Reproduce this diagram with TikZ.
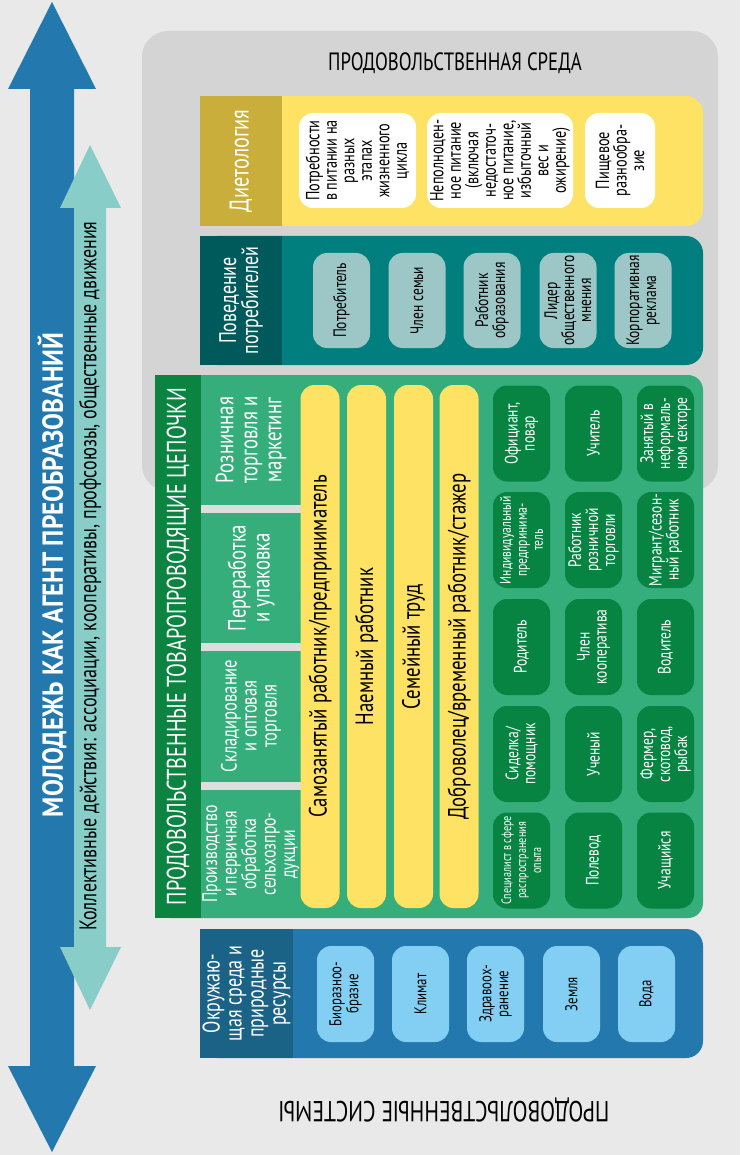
\documentclass[tikz,border=0pt]{standalone}
\usepackage{fontspec}
\setmainfont{PT Sans}[FakeStretch=0.75]
\newfontfamily\widefont{PT Sans}[FakeStretch=0.87]
\newcommand\fsz[2]{\fontsize{#1}{#2}\selectfont}

\definecolor{bgcol}{HTML}{E9E9E9}
\definecolor{envgray}{HTML}{D4D4D4}
\definecolor{gapgray}{HTML}{DEDEDE}
\definecolor{dietyellow}{HTML}{FDE264}
\definecolor{dietgold}{HTML}{C9AE3C}
\definecolor{behteal}{HTML}{007F7E}
\definecolor{behdark}{HTML}{005A5C}
\definecolor{tealcell}{HTML}{9CC7C6}
\definecolor{chaingreen}{HTML}{36AE7B}
\definecolor{chaindark}{HTML}{0B8442}
\definecolor{jobgreen}{HTML}{078442}
\definecolor{natblue}{HTML}{2379AE}
\definecolor{natdark}{HTML}{1B6287}
\definecolor{natcell}{HTML}{83CFF4}
\definecolor{youthblue}{HTML}{2379AE}
\definecolor{actteal}{HTML}{88CDC8}

\begin{document}
\begin{tikzpicture}[
  x=1pt, y=-1pt,
  panel/.style={inner sep=0pt, outer sep=0pt},
  rowpanel/.style={panel, rounded corners=17pt, minimum width=503pt, minimum height=130pt},
  rowlabel/.style={rotate=90, panel, align=center, text=white, minimum height=82pt, minimum width=130pt},
  stage/.style={rotate=90, panel, align=center, text=white, minimum width=128pt, minimum height=100pt},
  bar/.style={rotate=90, panel, fill=dietyellow, rounded corners=14pt, minimum width=523pt, minimum height=39pt, font=\fsz{25}{25}},
  cell/.style={rotate=90, panel, rounded corners=14pt, align=center, minimum width=96pt, minimum height=57pt, font=\fsz{18}{17}},
  whitecell/.style={cell, fill=white, minimum width=95pt, font=\fsz{19}{17.5}},
  behcell/.style={cell, fill=tealcell, minimum width=95pt},
  jobcell/.style={cell, fill=jobgreen, text=white},
  natcell/.style={cell, fill=natcell, font=\fsz{17}{17}}
]
\useasboundingbox (0,0) rectangle (740,1155);
\fill[bgcol] (0,0) rectangle (740,1155);

% double arrows on the left
\fill[youthblue] (52,2) -- (96,89) -- (74,89) -- (74,1066) -- (96,1066) -- (52,1152)
  -- (8,1066) -- (30,1066) -- (30,89) -- (8,89) -- cycle;
\fill[actteal] (90,145) -- (121,208) -- (106,208) -- (106,947) -- (121,947) -- (90,1010)
  -- (60,947) -- (74,947) -- (74,208) -- (60,208) -- cycle;
\node[rotate=90, text=white, font=\widefont\bfseries\fsz{29}{29}] (youth) at (52,575) {МОЛОДЕЖЬ КАК АГЕНТ ПРЕОБРАЗОВАНИЙ};
\node[rotate=90, font=\fsz{24}{24}] (collective) at (90,576)
  {Коллективные действия: ассоциации, кооперативы, профсоюзы, общественные движения};

% food environment
\node[panel, fill=envgray, rounded corners=26pt, minimum width=576pt, minimum height=460pt] (foodenv) at (430,261) {};
\node[font=\fsz{25}{25}] (envtitle) at (455,63) {ПРОДОВОЛЬСТВЕННАЯ СРЕДА};

\node[rowpanel, fill=dietyellow] (dietrow) at (451.5,161) {};
\node[rowlabel, fill=dietgold, font=\fsz{27}{27}] (dietlbl) at (241,161) {Диетология};
\node[whitecell, minimum height=117pt] (needs) at (357.5,160.5)
  {Потребности\\в питании на\\разных\\этапах\\жизненного\\цикла};
\node[whitecell, minimum height=146pt] (malnut) at (500,160.5)
  {Неполноцен-\\ное питание\\(включая\\недостаточ-\\ное питание,\\избыточный\\вес и\\ожирение)};
\node[whitecell, minimum height=70pt] (diversity) at (620,160.5) {Пищевое\\разнообра-\\зие};

\node[rowpanel, fill=behteal, minimum height=129pt] (behrow) at (451.5,300.5) {};
\node[rowlabel, fill=behdark, minimum width=129pt, font=\fsz{24}{22}] (behlbl) at (241,300.5) {Поведение\\потребителей};
\node[behcell] (consumer) at (341.5,300.5) {Потребитель};
\node[behcell] (family) at (417,300.5) {Член семьи};
\node[behcell] (educator) at (492,300.5) {Работник\\образования};
\node[behcell] (leader) at (568,300.5) {Лидер\\общественного\\мнения};
\node[behcell] (advert) at (643,300.5) {Корпоративная\\реклама};

% food supply chains
\node[panel, fill=chaingreen, rounded corners=15pt, minimum width=548pt, minimum height=543pt] (chain) at (429,646.5) {};
\node[rowlabel, fill=chaindark, minimum width=543pt, minimum height=46pt, font=\fsz{27}{27}] (chainlbl) at (178,646.5)
  {ПРОДОВОЛЬСТВЕННЫЕ ТОВАРОПРОВОДЯЩИЕ ЦЕПОЧКИ};
\fill[gapgray] (201,505) rectangle (301,513);
\fill[gapgray] (201,643) rectangle (301,651);
\fill[gapgray] (201,782) rectangle (301,790);
\node[stage, font=\fsz{25}{24}] (retail) at (251,440) {Розничная\\торговля и\\маркетинг};
\node[stage, font=\fsz{25}{24}] (process) at (251,578) {Переработка\\и упаковка};
\node[stage, font=\fsz{22}{20}] (storage) at (251,716) {Складирование\\и оптовая\\торговля};
\node[stage, font=\fsz{21}{19.5}] (produce) at (251,854) {Производство\\и первичная\\обработка\\сельхозпро-\\дукции};

\node[bar] (selfemp) at (320,646.5) {Самозанятый работник/предприниматель};
\node[bar] (hired) at (366.5,646.5) {Наемный работник};
\node[bar] (familylab) at (413.5,646.5) {Семейный труд};
\node[bar] (volunteer) at (459,646.5) {Доброволец/временный работник/стажер};

\node[jobcell] (waiter) at (521.5,433.5) {Официант,\\повар};
\node[jobcell] (teacher) at (593.5,433.5) {Учитель};
\node[jobcell] (informal) at (665.5,433.5) {Занятый в\\неформаль-\\ном секторе};
\node[jobcell, font=\fsz{15.5}{16}] (entrepr) at (521.5,540) {Индивидуальный\\предпринима-\\тель};
\node[jobcell] (retailwk) at (593.5,540) {Работник\\розничной\\торговли};
\node[jobcell] (migrant) at (665.5,540) {Мигрант/сезон-\\ный работник};
\node[jobcell] (parent) at (521.5,647) {Родитель};
\node[jobcell] (coopmem) at (593.5,647) {Член\\кооператива};
\node[jobcell] (driver) at (665.5,647) {Водитель};
\node[jobcell] (carer) at (521.5,754) {Сиделка/\\помощник};
\node[jobcell] (scientist) at (593.5,754) {Ученый};
\node[jobcell] (farmer) at (665.5,754) {Фермер,\\скотовод,\\рыбак};
\node[jobcell, font=\fsz{13.5}{15}] (extension) at (521.5,860.5) {Специалист в сфере\\распространения\\опыта};
\node[jobcell] (cropper) at (593.5,860.5) {Полевод};
\node[jobcell] (student) at (665.5,860.5) {Учащийся};

% environment and natural resources
\node[rowpanel, fill=natblue, minimum height=129pt] (natrow) at (451.5,993.5) {};
\node[rowlabel, fill=natdark, minimum width=129pt, minimum height=93pt, font=\fsz{24}{22}] (natlbl) at (246.5,993.5)
  {Окружаю-\\щая среда и\\природные\\ресурсы};
\node[natcell] (biodiv) at (345.5,994) {Биоразноо-\\бразие};
\node[natcell] (climate) at (420.5,994) {Климат};
\node[natcell] (health) at (495.5,994) {Здравоох-\\ранение};
\node[natcell] (land) at (571.5,994) {Земля};
\node[natcell] (water) at (646.5,994) {Вода};

\node[rotate=180, font=\fsz{29}{29}] (systitle) at (444,1110) {ПРОДОВОЛЬСТВЕННЫЕ СИСТЕМЫ};
\end{tikzpicture}
\end{document}
